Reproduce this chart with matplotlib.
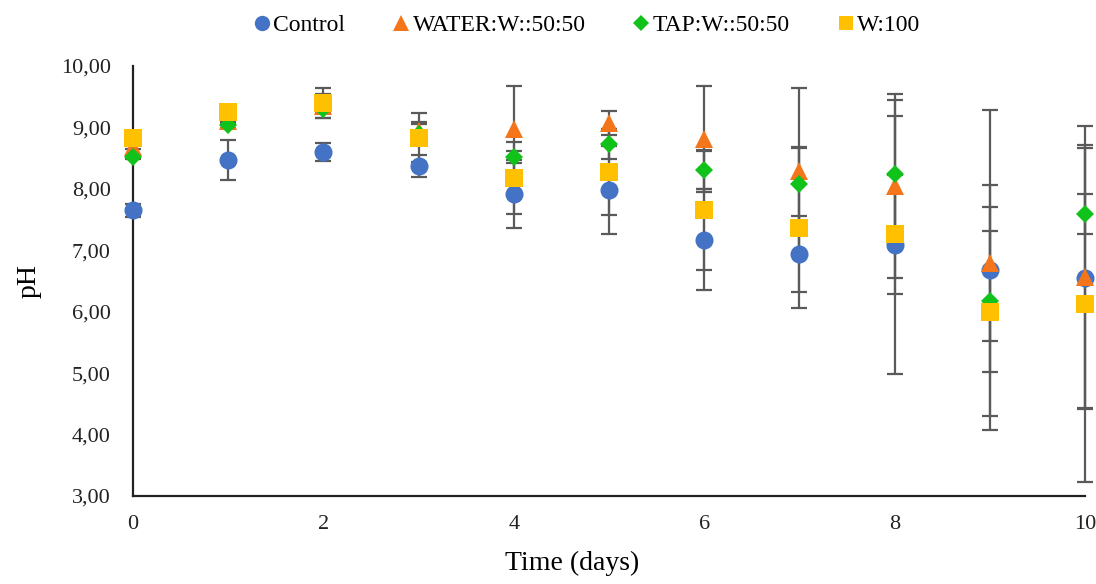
import matplotlib
matplotlib.use("Agg")
import matplotlib.pyplot as plt
from matplotlib.ticker import FuncFormatter

days = [0, 1, 2, 3, 4, 5, 6, 7, 8, 9, 10]

control = [7.65, 8.47, 8.60, 8.37, 7.92, 7.98, 7.17, 6.94, 7.08, 6.68, 6.55]
control_err = [0.11, 0.33, 0.15, 0.18, 0.55, 0.72, 0.82, 0.62, 2.10, 2.60, 2.12]

water = [8.68, 9.10, 9.35, 8.95, 8.98, 9.07, 8.81, 8.29, 8.05, 6.79, 6.56]
water_err = [0.03, 0.05, 0.20, 0.14, 0.70, 0.20, 0.86, 1.35, 1.50, 1.27, 2.15]

tap = [8.52, 9.04, 9.30, 8.90, 8.52, 8.73, 8.31, 8.08, 8.24, 6.17, 7.59]
tap_err = [0.03, 0.05, 0.05, 0.15, 0.10, 0.25, 0.32, 0.60, 1.20, 1.15, 0.33]

w100 = [8.83, 9.25, 9.40, 8.83, 8.18, 8.27, 7.65, 7.36, 7.26, 6.00, 6.12]
w100_err = [0.03, 0.05, 0.24, 0.40, 0.59, 0.70, 0.97, 1.30, 0.97, 1.70, 2.90]

labels = ["Control", "WATER:W::50:50", "TAP:W::50:50", "W:100"]
yticks = [3, 4, 5, 6, 7, 8, 9, 10]
xticks = [0, 2, 4, 6, 8, 10]

plt.rcParams['font.family'] = ['Liberation Serif', 'DejaVu Serif']

fig = plt.figure(figsize=(10.96, 5.84), dpi=100)
ax = fig.add_axes([133/1096, 1 - 496/584, (1085 - 133)/1096, (496 - 66)/584])

series = [
    (control, control_err, "o", "#4472C4", 13),
    (water, water_err, "^", "#F5761A", 13),
    (tap, tap_err, "D", "#11C21B", 9.5),
    (w100, w100_err, "s", "#FFC000", 12.5),
]

for vals, errs, m, c, ms in series:
    ax.errorbar(days, vals, yerr=errs, fmt="none", ecolor="#5a5a5a",
                elinewidth=1.6, capsize=5.5, capthick=1.6, zorder=2, clip_on=False)

for (vals, errs, m, c, ms), lab in zip(series, labels):
    ax.plot(days, vals, linestyle="none", marker=m, color=c,
            markersize=ms, markeredgewidth=0, label=lab, zorder=3, clip_on=False)

ax.set_xlim(0, 10)
ax.set_ylim(3, 10)
ax.set_xticks(xticks)
ax.set_yticks(yticks)
ax.yaxis.set_major_formatter(FuncFormatter(lambda v, p: f"{v:.2f}".replace(".", ",")))
ax.tick_params(axis="both", length=0, labelsize=16, colors="#222222")
ax.tick_params(axis="y", pad=16)
ax.tick_params(axis="x", pad=14)

for s in ["top", "right"]:
    ax.spines[s].set_visible(False)
for s in ["left", "bottom"]:
    ax.spines[s].set_linewidth(1.6)
    ax.spines[s].set_color("#222222")

ax.set_xlabel("Time (days)", fontsize=20)
ax.xaxis.set_label_coords((572 - 133) / 952, -0.128)
ax.set_ylabel("pH", fontsize=20, labelpad=14)

leg_handles = []
for (vals, errs, m, c, ms), lab in zip(series, labels):
    h, = ax.plot([], [], linestyle="none", marker=m, color=c,
                 markersize=ms * 0.85, markeredgewidth=0, label=lab)
    leg_handles.append(h)

fig.legend(handles=leg_handles, labels=labels, loc="upper center",
           bbox_to_anchor=(0.535, 1.012), ncol=4, frameon=False,
           fontsize=17, handlelength=0.8, handletextpad=0.1,
           columnspacing=1.95)

fig.savefig("out.png", dpi=100)
